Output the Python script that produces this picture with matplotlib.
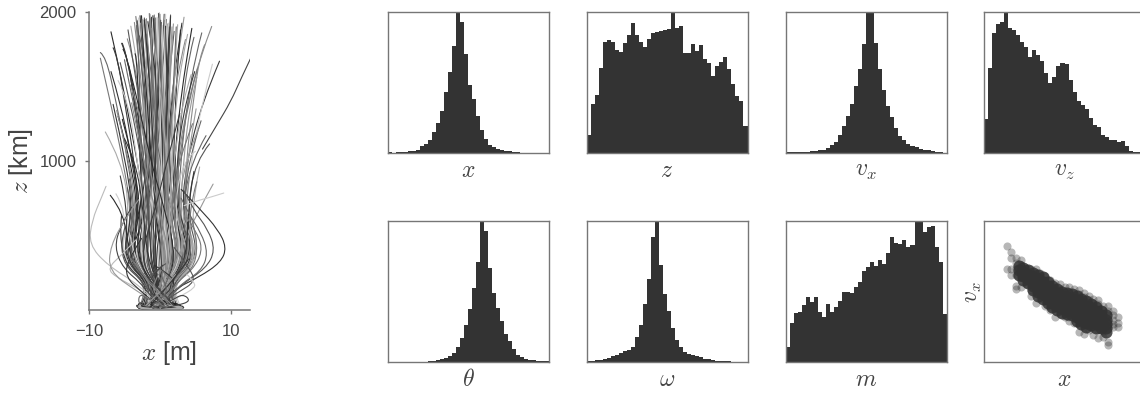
#!/usr/bin/env python
import matplotlib
matplotlib.use("Agg")
import matplotlib.pyplot as plt
from matplotlib.path import Path
from matplotlib.patches import PathPatch

plt.rcParams['font.family'] = ['Liberation Sans', 'DejaVu Sans']
plt.rcParams['mathtext.fontset'] = 'cm'

# bin heights, in percent of the panel height
hist_x = [.5, .2, .7, .7, .9, 1.2, 1.6, 2.4, 4.7, 6.6, 9.4, 14.6, 21, 30, 43, 57.5, 76, 102, 93, 70,
          48, 38, 26, 16.5, 10, 6, 4.2, 2.8, 1.9, 1.4, 1.2, .7, .5, .2, .2, .2, .2, .2, .2, .2]
hist_z = [13, 35, 41, 60, 78.5, 80.4, 78.5, 73, 71.7, 78, 83.5, 92, 84, 79, 75, 80.7, 85.4, 86, 86.6, 87,
          87.7, 102, 88.4, 90, 71, 70.8, 77, 72, 76.7, 67, 64, 54.7, 62, 64.4, 68, 59.4, 49, 40.6, 36.6, 19]
hist_vx = [.5, .5, .7, .7, .9, .9, 1.2, 1.4, 1.9, 2.4, 3.5, 6, 8, 13, 19, 26, 34.7, 47.6, 59.4, 77,
           102, 102, 78, 59.4, 45, 33, 25.5, 17.7, 12, 9.4, 6.6, 5, 4, 3, 2.4, 1.9, 1.2, .9, .5, .2]
hist_vz = [24, 60, 85, 91.5, 92.7, 102, 88.4, 87, 83.7, 79, 75.5, 68.4, 73, 69.6, 65, 57, 50, 53.8, 62, 63.7,
           63, 52, 43, 36.6, 33.7, 31.4, 24.8, 20, 18.4, 12.5, 11, 9.4, 9, 8, 8.5, 4.7, 1.2, .7, .5, .3]
hist_theta = [.3, .3, .3, .3, .3, .3, .3, .3, .3, .3, .5, .9, 1.6, 2, 2.8, 4.5, 6.4, 10.6, 17, 26,
              37.7, 52.4, 70.8, 102, 93, 67, 48.8, 38, 29, 19.8, 14.6, 9.4, 5, 3.5, 1.9, 1.4, 1.2, .9, .7, .5]
hist_omega = [.5, .9, 1.2, 1.6, 2.4, 2.8, 4, 5.2, 6.4, 7.5, 8.7, 10.4, 17.5, 26.4, 41, 59, 88.4, 102, 69, 48,
              36, 23.8, 15.8, 10.4, 7, 5.6, 4.7, 4, 3.3, 2.4, 1.9, 1.4, .9, .7, .5, .4, .3, .3, .2, .2]
hist_m = [10.4, 28, 34.7, 35.4, 40.6, 46, 42.5, 46, 35.4, 31.6, 41, 35.4, 38.7, 43.4, 49.5, 49.5, 48.8, 53.5, 56.6, 64.6,
          67.7, 70.8, 68, 72.4, 69.6, 77.6, 88.4, 84.7, 84, 86.6, 81.4, 83, 102, 102, 92, 96, 96.7, 81.8, 71, 34]

# x of each trajectory at the heights in z_levels, the last value is at traj_top
z_levels = [15, 150, 350, 650, 1000, 1400, 1700]
traj_x = [
    [-1.5, -0.8, -2.5, -2.0, -3.2, -4.8, -6.1, -6.9],
    [1.0, -0.5, -4.2, -3.5, -4.5, -6.2, -7.6, -8.4],
    [-2.2, 0.6, 4.8, 2.0, 2.4, 4.0, 5.7, 7.3],
    [2.0, 1.0, 5.4, 3.0, 3.8, 6.0, 8.4],
    [-1.0, 0.5, 2.5, 1.5, 0.2, -1.0, -1.9, -2.4],
    [1.2, -0.4, -2.8, -1.5, -0.8, -0.2, 0.3, 0.6],
    [-2.0, -0.6, 1.8, 1.0, 0.3, -0.4, -1.0, -1.5],
    [2.4, 0.9, -3.4, -1.2, -1.4, -1.9, -2.5, -3.0],
    [-0.5, -1.1, -5.2, -2.8, -1.8, -2.0, -2.4, -2.8],
    [0.7, 1.2, 5.0, 2.2, 0.8, 0.2, -0.3, -0.7],
    [-2.6, -0.2, 3.4, 1.8, 0.9, 0.4, 0.0, -0.2],
    [2.8, 0.3, -1.6, -0.9, -0.4, 0.1, 0.5, 0.9],
    [-1.8, 1.0, 3.8, 2.8, 1.8, 1.4, 1.2, 1.1],
    [1.6, -1.2, -3.6, -2.4, -1.2, -0.9, -1.0, -1.2],
    [-0.2, 0.2, 1.2, 0.6, -0.6, -1.7, -2.6, -3.2],
    [0.4, -0.2, -0.9, -0.4, 0.1, 0.7, 1.2, 1.5],
    [-3.0, -1.4, -5.6, -3.4, -2.2, -2.2, -2.7, -3.4],
    [3.0, 1.4, 5.5, 3.2, 1.5, 0.7, 0.3, 0.0],
    [-1.2, 0.2, 2.0, 1.2, 1.0, 1.6, 2.4, 3.1],
    [1.4, -0.8, -2.2, -0.6, 0.4, 1.5, 2.6, 3.4],
    [-2.4, 0.8, 4.4, 2.4, 2.0, 2.9, 3.8, 4.5],
    [0.2, 0.7, 3.0, 2.6, 2.9, 3.9, 5.0, 5.9],
    [-0.8, -0.4, -1.4, -1.0, -1.6, -2.7, -3.8, -4.6],
    [1.8, -1.0, -3.0, -1.8, -2.2, -3.4, -4.6, -5.4],
    [-1.4, 0.4, 1.5, -0.2, -1.0, -2.3, -3.4, -4.1],
    [0.9, -0.6, -1.9, -1.3, -1.1, -1.1, -1.2, -1.3],
    [-0.6, 0.9, 2.9, 1.3, 0.5, -0.1, -0.5, -0.8],
    [2.2, -0.2, -2.6, -0.7, -0.1, 0.3, 0.4, 0.3],
    [-2.8, 1.2, 4.1, 1.9, 0.7, -0.2, -0.9, -1.7],
    [1.1, 0.1, 0.8, 0.3, -0.2, -0.7, -1.1, -1.4],
    [-1.6, -0.9, -4.4, -2.0, -0.7, -0.3, -0.1, 0.1],
    [0.3, 1.1, 4.2, 1.7, 0.2, -0.8, -1.5, -2.1],
    [-0.3, -0.3, -3.2, -2.2, -1.9, -2.4, -3.0, -3.6],
    [2.6, 0.5, 2.2, 0.9, 0.6, 0.9, 1.1, 1.3],
    [-2.1, -0.1, 1.0, 0.2, 0.0, 0.0, -0.1, -0.1],
    [1.5, 0.2, -1.2, -0.3, -0.5, -1.2, -1.8, -2.2],
    [-1.1, 0.6, 3.3, 2.1, 1.2, 0.9, 0.8, 0.7],
    [0.6, -0.7, -3.8, -1.6, -0.3, 0.5, 0.9, 1.2],
    [-0.9, 0.3, 1.6, 0.7, 0.4, 0.1, -0.4, -1.0],
    [1.9, -0.3, -2.0, -1.1, -1.3, -1.6, -2.1, -2.6],
    [-2.5, -1.3, -4.8, -2.6, -2.6, -3.6, -4.6, -5.2],
    [2.1, 1.3, 4.6, 2.7, 2.5, 3.2, 4.1, 4.8],
    [-0.4, 0.8, 5.2, 3.4, 3.7, 4.7, 5.6, 6.3],
    [0.1, -1.0, -4.6, -3.0, -3.6, -5.0, -6.0, -6.6],
    [-1.7, 0.4, 3.6, 2.3, 1.6, 1.9, 2.2, 2.5],
    [1.3, -0.1, -1.0, 0.1, 0.8, 1.0, 1.6, 2.0],
    [-0.1, 0.0, 0.4, -0.1, -0.3, -0.5, -0.6, -0.6],
    [0.5, 0.1, -0.4, 0.4, 0.5, 0.6, 0.7, 0.8],
    [-1.3, -0.5, -2.4, -1.7, -1.5, -1.4, -1.6, -1.9],
    [1.7, 0.6, 2.7, 1.1, 1.3, 1.2, 1.5, 1.7],
    [-2.3, -0.7, -3.3, -2.1, -2.9, -3.0, -3.3, -3.5],
    [2.3, 0.7, 3.9, 1.6, 0.0, -1.3, -2.2, -2.9],
    [-0.9, 0.4, 0.8, -0.3, -0.7, -1.2, -1.6, -1.9],
    [0.8, -0.3, -0.6, 0.3, 0.7, 1.0, 1.3, 1.5],
    [-1.9, 0.2, 1.4, 0.5, -0.4, -1.4, -2.2, -2.7],
    [1.6, -0.4, -1.5, -1.0, -1.5, -2.1, -2.7, -3.2],
    [-0.5, 0.5, 2.1, 1.0, 0.6, 0.3, 0.1, 0.0],
    [0.2, -0.6, -2.5, -1.2, -0.9, -0.6, -0.4, -0.3],
    [-1.0, 0.7, 3.1, 1.7, 1.4, 1.1, 0.9, 0.8],
    [1.2, -0.5, -3.0, -1.9, -1.7, -1.8, -1.9, -2.0],
    [-2.2, 0.9, 3.6, 2.0, 1.9, 2.2, 2.6, 2.9],
    [2.0, -0.8, -3.5, -2.5, -2.6, -2.8, -3.0, -3.3],
    [-0.7, 0.3, 1.9, 0.9, 1.1, 1.9, 3.0, 3.6],
    [0.6, -0.2, -1.3, -1.6, -2.4, -3.6, -4.6, -5.3],
    [-1.5, 0.6, 2.4, 1.5, 1.6, 2.3, 3.2, 3.9],
    [1.4, -0.4, -2.1, -1.4, -1.9, -2.9, -3.9, -4.5],
    [-0.3, 0.1, 0.6, 0.0, -0.4, -0.8, -1.2, -1.5],
    [0.1, 0.2, 1.0, 0.5, 0.2, 0.0, -0.2, -0.4],
    [-1.2, -0.2, -0.7, -0.5, -0.8, -1.3, -1.7, -2.2],
    [0.9, 0.3, 1.3, 0.7, 0.9, 1.3, 1.6, 1.9],
    [-2.0, 0.0, 0.3, -0.6, -1.2, -1.8, -2.3, -2.6],
    [1.7, 0.0, -0.2, 0.6, 1.1, 1.8, 2.1, 2.3],
    [-0.8, 0.4, 1.7, 1.1, 0.8, 0.6, 0.3, -0.1],
    [0.7, -0.1, -1.1, -0.8, -0.6, -0.5, -0.7, -0.9],
    [-1.4, 0.8, 3.0, 1.9, 1.0, 0.2, -0.6, -1.1],
    [1.0, -0.7, -2.7, -1.7, -1.0, -0.4, 0.0, 0.2],
    # stopping lower
    [-1.9, -1.0, -5.0, -4.0, -5.2, -7.0, -8.4],
    [1.0, 0.9, 4.9, 3.6, 4.4, 6.0, 7.4],
    [-0.7, -0.6, -3.9, -2.9, -3.9, -5.6, -6.9],
    [0.8, 0.5, 3.5, 2.9, 3.3, 4.3, 5.2],
    [-1.0, 0.7, 2.3, 0.8, -1.3, -3.1, -4.4],
    [1.2, -0.9, -3.1, -1.4, -2.1, -3.8, -5.0],
    [-2.7, 0.2, 1.4, 0.0, -1.7, -3.2, -4.3],
    [2.5, 1.1, 5.1, 2.5, 2.3, 3.6, 4.9],
    [-0.6, 0.4, 1.6, 1.2, 2.0, 3.2, 4.4],
    [0.5, -0.5, -2.0, -1.3, -2.6, -4.2, -5.6],
    [-1.3, 0.6, 2.8, 1.8, 2.7, 4.0, 5.3],
    [1.3, -0.7, -2.9, -2.2, -3.2, -4.4, -5.9],
    [-1.5, -1.2, -5.4, -3.8, -4.8, -6.6],
    [1.6, 1.0, 5.3, 3.5, 3.8, 5.1],
    [-0.2, -0.8, -4.0, -3.1, -4.1, -5.9],
    [0.4, 0.9, 4.3, 3.3, 4.0, 5.8],
    [-2.0, 0.3, 1.1, -0.6, -2.3, -4.0],
    [2.0, -0.5, -2.9, -0.8, 1.0, 2.8],
    [-1.1, -1.3, -5.8, -4.2, -5.4, -7.7],
    [1.1, 1.2, 5.6, 3.8, 5.0, 7.0],
    [-0.6, 0.6, 2.6, 1.4, 2.6, 4.6],
    [0.9, 0.4, 3.2, 2.0, 3.1, 5.0],
    [-1.6, 0.1, -1.8, -2.3, -3.4, -5.0],
    [0.7, 0.5, 3.4, 2.6, 3.5, 5.4],
    [-0.4, -0.6, -3.4, -2.7, -3.7, -5.3],
    [1.5, 0.9, 4.1, 3.1, 4.4, 6.5],
    [-1.2, -0.9, -4.1, -3.3, -4.3, -6.1],
    [-2.9, -1.1, -5.1, -4.4, -5.6],
    [2.7, 1.3, 5.7, 4.2, 5.6],
    [-0.9, -0.9, -4.7, -3.7, -4.6],
    [0.3, 1.0, 4.7, 3.9, 5.2],
    [-1.4, -1.4, -5.5, -4.6, -6.2],
    [1.5, 0.8, 4.5, 3.7, 4.8],
    [0.0, 0.9, 2.4, 5.2, 7.5],
    [-1.2, -1.0, -4.3, -5.0, -7.0],
    [-0.5, -0.8, -4.5, -3.6, -4.3],
    [0.6, 0.8, 4.4, 3.4, 4.2],
    [-2.2, -1.2, -6.0, -5.4],
    [2.2, 1.4, 5.9, 3.4],
    [-0.5, -1.4, -6.2, -4.9],
    [0.6, 1.5, 6.2, 4.4],
    [-1.8, -0.9, -3.7, -4.2],
    [1.4, 0.9, 4.0, 3.9],
]
traj_top = [1867, 1728, 1903, 1670, 1950, 1985, 1940, 1960, 1975, 1930, 1990, 1950, 1920, 1965, 1945, 1980,
            1970, 1935, 1925, 1965, 1890, 1860, 1820, 1790, 1905, 1955, 1980, 1910, 1935, 1985, 1945, 1915,
            1930, 1900, 1995, 1960, 1945, 1925, 1975, 1880, 1750, 1830, 1780, 1760, 1915, 1870, 1960, 1985,
            1850, 1900, 1720, 1840,
            1955, 1970, 1925, 1940, 1985, 1960, 1905, 1950, 1880, 1910, 1815, 1790, 1850, 1880, 1990, 1965,
            1945, 1920, 1975, 1900, 1935, 1955, 1890, 1930,
            1690, 1650, 1600, 1560, 1640, 1680, 1520, 1600, 1580, 1660, 1620, 1540,
            1380, 1350, 1300, 1270, 1390, 1320, 1195, 1115, 1250, 1065, 1150, 1210, 1280, 1170, 1340,
            900, 960, 820, 860, 780, 930, 845, 770, 880, 910,
            640, 600, 560, 620, 500, 590]

# curves with their own heights: the wide loops and the knots at the bottom
loop_x = [
    [0.5, 2.0, 5.5, 8.6, 9.4, 8.2, 5.6, 3.0],
    [0.5, 3.0, 6.5, 7.8, 6.8, 4.6, 3.4],
    [-0.5, -3.0, -7.4, -10.0, -9.6, -8.2, -7.6],
    [0.3, -2.5, -6.2, -7.4, -5.4, -3.4],
    [0.4, 2.5, 5.8, 6.8, 5.8, 4.0, 3.0],
    [-0.4, -2.4, -5.2, -6.4, -5.6, -4.0],
    [0.4, 2.0, 4.6, 6.0, 5.4, 3.8],
    [0.0, 2.6, 5.0, 4.2, 2.0],
    [-0.6, -2.8, -4.8, -4.6, -2.6],
    [6.0, 8.0, 10.0, 11.4, 12.8],
    [3.4, 5.0, 6.6, 8.0, 9.0],
    [-0.4, -3.4, -7.2, -7.0, -4.8, -3.0],
    [0.4, 2.8, 5.0, 4.8, 3.8],
    [-2.9, -3.1, -1.8, 0.0, 1.8, 3.1, 2.0, 0.0],
    [-3.2, -3.0, -1.0, 1.0, 3.0, 3.4, 1.4, -1.0],
    [-2.6, -2.8, -1.4, 0.6, 2.6, 2.9, 1.2, -0.6],
    [-2.2, -2.6, -0.8, 0.8, 2.4, 2.6, 0.8, -0.8],
    [-3.0, -2.9, -1.2, 0.4, 2.2, 3.0, 0.6, -1.2],
    [-2.7, -3.0, -1.6, 0.2, 2.0, 2.8, 1.6, 0.4],
    [-3.1, -2.7, -0.6, 1.2, 2.7, 2.8, 1.0, -0.4],
    [-2.4, -2.9, -1.9, -0.2, 1.5, 2.5, 1.8, 0.2],
    [-2.8, -3.2, -1.1, 0.9, 2.9, 3.2, 1.2, -0.9],
    [-1.0, 1.6, 3.2, 4.4, 2.4, 0.2],
    [1.0, -1.6, -2.8, -3.1, -2.2, 0.0],
    [-1.4, 0.4, 2.2, 1.4, -0.8],
    [1.4, -0.6, -2.0, -1.2, 0.8],
    [-0.6, 1.0, 1.9, 1.2, -0.2],
    [0.6, -1.0, -1.8, -0.9, 0.4],
    [-1.8, -0.4, 1.2, 2.4, 3.4],
    [1.8, 0.4, -1.2, -2.4, -3.6],
    [-1.2, 0.2, 1.6, 2.8, 4.0],
    [1.2, -0.2, -1.6, -2.9, -4.2],
    [-2.0, -0.9, 0.4, 1.4, 2.2],
    [2.0, 0.9, -0.4, -1.4, -2.2],
    [-0.8, 0.6, 1.0, 0.6, 0.2],
    [0.8, -0.6, -1.0, -0.6, -0.2],
]
loop_z = [
    [60, 140, 220, 320, 420, 540, 680, 810],
    [50, 170, 280, 400, 540, 680, 800],
    [60, 170, 300, 440, 600, 760, 830],
    [40, 130, 220, 280, 370, 470],
    [40, 160, 260, 380, 520, 650, 750],
    [40, 170, 280, 420, 560, 690],
    [40, 170, 270, 390, 510, 620],
    [40, 120, 190, 280, 420],
    [40, 130, 220, 330, 480],
    [1080, 1240, 1400, 1550, 1690],
    [700, 730, 750, 770, 785],
    [40, 130, 260, 430, 620, 740],
    [30, 90, 150, 190, 240],
    [40, 24, 8, 5, 8, 24, 44, 55],
    [28, 14, 5, 5, 8, 22, 36, 44],
    [36, 18, 7, 4, 9, 28, 46, 50],
    [26, 12, 4, 5, 10, 20, 34, 40],
    [20, 9, 5, 3, 6, 16, 30, 36],
    [44, 30, 12, 6, 7, 20, 40, 60],
    [24, 10, 4, 3, 8, 26, 38, 46],
    [38, 20, 8, 5, 8, 24, 42, 56],
    [32, 16, 6, 4, 7, 18, 30, 38],
    [10, 60, 110, 60, 30, 10],
    [15, 70, 110, 50, 25, 8],
    [20, 90, 170, 240, 300],
    [20, 80, 160, 250, 310],
    [30, 90, 170, 230, 280],
    [30, 100, 160, 240, 300],
    [30, 100, 170, 250, 330],
    [30, 90, 160, 240, 320],
    [40, 110, 190, 260, 340],
    [40, 120, 200, 270, 350],
    [30, 80, 140, 190, 240],
    [30, 90, 150, 200, 250],
    [40, 90, 140, 190, 230],
    [40, 100, 150, 200, 240],
]
loop_gray = ['#333333', '#555555', '#bbbbbb', '#bbbbbb', '#666666', '#444444', '#777777', '#555555', '#333333',
             '#444444', '#cccccc', '#999999', '#cccccc',
             '#222222', '#333333', '#222222', '#444444', '#222222', '#333333', '#555555', '#222222', '#aaaaaa',
             '#444444', '#666666', '#333333', '#555555', '#777777', '#444444',
             '#555555', '#888888', '#333333', '#777777', '#999999', '#444444', '#666666', '#888888']

# points of the x / v_x panel, percent of the panel, one list of heights per column
scatter_cols = [14.4, 17, 20, 23, 26, 29, 32, 35, 38, 41, 44, 47, 50, 53, 56, 59, 62, 65, 68, 71, 74, 77, 80, 83]
scatter_heights = [
    [82, 66],
    [78, 74, 62, 66],
    [74, 70, 66, 62, 52, 54],
    [72, 69, 66, 63, 60, 53],
    [67, 64, 61, 58, 55],
    [66, 63, 60, 57, 54, 51, 47],
    [66, 63, 60, 57, 54, 51, 48, 42],
    [63, 60, 57, 54, 51, 48, 45],
    [61, 58, 55, 52, 49, 46, 43, 40],
    [58, 55, 52, 49, 46, 43, 40, 37],
    [56, 53, 50, 47, 44, 41, 38, 32],
    [55, 52, 49, 46, 43, 40, 37, 34],
    [53, 50, 47, 44, 41, 38, 35, 32],
    [53, 50, 47, 44, 41, 38, 35, 32, 29],
    [52, 49, 46, 43, 40, 37, 34, 31, 28],
    [51, 48, 45, 42, 39, 36, 33, 30, 27, 21],
    [49, 46, 43, 40, 37, 34, 31, 28, 25, 20],
    [47, 44, 41, 38, 35, 32, 29, 26, 23],
    [45, 42, 39, 36, 33, 30, 27, 24, 19],
    [44, 41, 38, 35, 32, 29, 26, 23, 17],
    [40, 37, 34, 31, 28, 25, 22, 18],
    [40, 36, 33, 30, 27, 24, 14, 12],
    [36, 33, 30, 27, 25],
    [32, 28, 25],
]
# second, denser set for the dark core of the cloud
core_cols = [21.5, 24.5, 27.5, 30.5, 33.5, 36.5, 39.5, 42.5, 45.5, 48.5, 51.5, 54.5, 57.5, 60.5, 63.5, 66.5, 69.5, 72.5, 75.5]
core_heights = [
    [68, 65, 62],
    [67, 64, 61, 58],
    [65, 62, 59, 56],
    [63, 60, 57, 54, 51],
    [62, 59, 56, 53, 50, 47],
    [60, 57, 54, 51, 48, 45],
    [57, 54, 51, 48, 45, 42],
    [54, 51, 48, 45, 42, 39],
    [52, 49, 46, 43, 40, 37],
    [50, 47, 44, 41, 38, 35],
    [49, 46, 43, 40, 37, 34],
    [48, 45, 42, 39, 36, 33],
    [47, 44, 41, 38, 35, 32, 29],
    [45, 42, 39, 36, 33, 30, 27],
    [43, 40, 37, 34, 31, 28, 25],
    [41, 38, 35, 32, 29, 26],
    [39, 36, 33, 30, 27, 24],
    [36, 33, 30, 27, 24],
    [33, 30, 27, 24, 21],
]

panels = [
    (hist_x, r'$x$', 387.5, 12), (hist_z, r'$z$', 586.5, 12),
    (hist_vx, r'$v_x$', 785.7, 12), (hist_vz, r'$v_z$', 984, 12),
    (hist_theta, r'$\theta$', 387.5, 221), (hist_omega, r'$\omega$', 586.5, 221),
    (hist_m, r'$m$', 785.7, 221),
]
line_grays = ['#2a2a2a', '#666666', '#8a8a8a', '#3a3a3a', '#aaaaaa', '#555555', '#777777', '#cccccc', '#333333', '#999999']
W, H = 1140, 395
text_c = '#444444'
spine_c = '#767676'


def px_axes(fig, left, top, w, h):
    return fig.add_axes([left / W, 1 - (top + h) / H, w / W, h / H])


def smooth_path(xs, zs):
    # quadratic pieces through the midpoints so the lines come out round
    verts = [(xs[0], zs[0])]
    codes = [Path.MOVETO]
    n = len(xs)
    for i in range(1, n - 1):
        if i < n - 2:
            end = ((xs[i] + xs[i + 1]) / 2, (zs[i] + zs[i + 1]) / 2)
        else:
            end = (xs[-1], zs[-1])
        verts += [(xs[i], zs[i]), end]
        codes += [Path.CURVE3, Path.CURVE3]
    return Path(verts, codes)


def expand(cols, heights):
    xs = []
    ys = []
    for col, vals in zip(cols, heights):
        for y in vals:
            xs.append(col)
            ys.append(y)
    return xs, ys


fig = plt.figure(figsize=(W / 100, H / 100), dpi=100)

ax = px_axes(fig, 89, 12, 161, 298)
for i, (row, top) in enumerate(zip(traj_x, traj_top)):
    zs = z_levels[:len(row) - 1] + [top]
    ax.add_patch(PathPatch(smooth_path(row, zs), fill=False, lw=0.8,
                           ec=line_grays[i % len(line_grays)], capstyle='round'))
for xs, zs, gray in zip(loop_x, loop_z, loop_gray):
    # the knots at the bottom read as a thick dark band
    lw = 1.7 if max(zs) < 70 else 0.8
    ax.add_patch(PathPatch(smooth_path(xs, zs), fill=False, lw=lw, ec=gray, capstyle='round'))
ax.set_xlim(-10, 12.7)
ax.set_ylim(0, 2000)
ax.set_xticks([-10, 10])
ax.set_yticks([1000, 2000])
ax.spines['top'].set_visible(False)
ax.spines['right'].set_visible(False)
for s in ['left', 'bottom']:
    ax.spines[s].set_color(spine_c)
    ax.spines[s].set_linewidth(1.1)
ax.tick_params(length=3, width=1, color=spine_c, labelcolor=text_c, labelsize=12)
ax.tick_params(axis='x', pad=7)
ax.tick_params(axis='y', pad=6)
ax.set_xlabel(r'$x$ [m]', fontsize=18, color=text_c, labelpad=0)
ax.set_ylabel(r'$z$ [km]', fontsize=18, color=text_c, labelpad=3)

for heights, label, left, top in panels:
    a = px_axes(fig, left, top, 161, 141)
    a.bar(range(len(heights)), heights, width=1.0, align='edge', color='#333333')
    a.set_xlim(0, 40)
    a.set_ylim(0, 100)
    a.set_xticks([])
    a.set_yticks([])
    for s in a.spines.values():
        s.set_color(spine_c)
        s.set_linewidth(1.0)
    a.set_xlabel(label, fontsize=17, color=text_c, labelpad=5)

sc = px_axes(fig, 984, 221, 161, 141)
outer_x, outer_y = expand(scatter_cols, scatter_heights)
core_x, core_y = expand(core_cols, core_heights)
sc.scatter(outer_x, outer_y, s=34, color='#333333', alpha=0.35, linewidths=0)
sc.scatter(core_x, core_y, s=75, color='#333333', alpha=0.85, linewidths=0)
sc.set_xlim(0, 100)
sc.set_ylim(0, 100)
sc.set_xticks([])
sc.set_yticks([])
for s in sc.spines.values():
    s.set_color(spine_c)
    s.set_linewidth(1.0)
sc.set_xlabel(r'$x$', fontsize=17, color=text_c, labelpad=5)
sc.set_ylabel(r'$v_x$', fontsize=17, color=text_c, labelpad=0)

fig.savefig('out.png', dpi=100)
